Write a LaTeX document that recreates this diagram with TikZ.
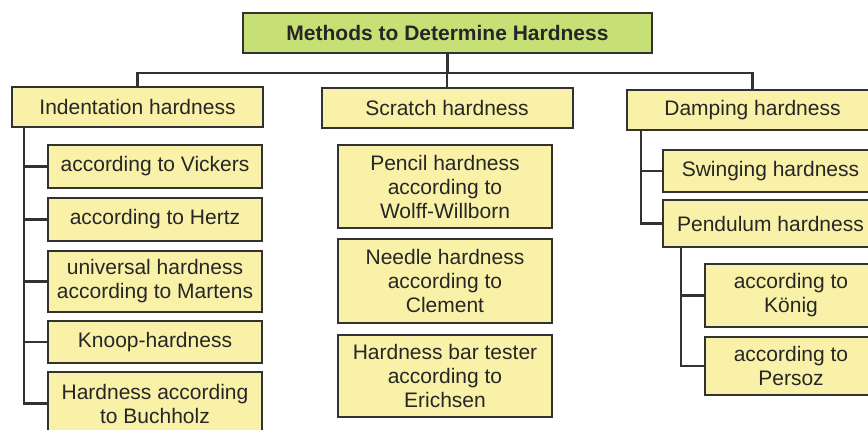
\documentclass[tikz,border=0pt]{standalone}
\usepackage{fontspec}
\setmainfont{Liberation Sans}
\usepackage{xcolor}
\definecolor{boxyellow}{RGB}{250,241,168}
\definecolor{boxgreen}{RGB}{199,224,118}
\definecolor{linegray}{RGB}{50,50,50}

\begin{document}
\begin{tikzpicture}[x=1pt,y=-1pt]
    \tikzset{every node/.style={font=\fontsize{21}{24}\selectfont,align=center,inner sep=0pt}}
    \tikzset{box/.style = {draw=linegray,line width=2pt,fill=boxyellow,text=black!85}}
    \tikzset{titlebox/.style = {box,fill=boxgreen,font=\fontsize{21}{24}\selectfont\bfseries}}
    \tikzset{edge/.style = {-,draw=linegray,line width=2.4pt}}
    \clip (0,0) rectangle (868,430);
    \useasboundingbox (0,0) rectangle (868,430);
    % vertices
    \node[titlebox,minimum width=409,minimum height=40] (top) at (447.5,33) {Methods to Determine Hardness};
    \node[box,minimum width=251,minimum height=40] (indent) at (137.5,107) {Indentation hardness};
    \node[box,minimum width=251,minimum height=40] (scratch) at (447,108) {Scratch hardness};
    \node[box,minimum width=251,minimum height=40] (damping) at (752.5,110) {Damping hardness};

    \node[box,minimum width=214,minimum height=43] (vickers) at (155,166.5) {according to Vickers};
    \node[box,minimum width=214,minimum height=43] (hertz) at (155,219.5) {according to Hertz};
    \node[box,minimum width=214,minimum height=61] (martens) at (155,281.5) {universal hardness\\according to Martens};
    \node[box,minimum width=214,minimum height=42] (knoop) at (155,342) {Knoop-hardness};
    \node[box,minimum width=214,minimum height=63] (buchholz) at (155,403.5) {Hardness according\\to Buchholz};

    \node[box,minimum width=214,minimum height=83] (pencil) at (445,186.5) {Pencil hardness\\according to\\Wolff-Willborn};
    \node[box,minimum width=214,minimum height=84] (needle) at (445,281) {Needle hardness\\according to\\Clement};
    \node[box,minimum width=214,minimum height=82] (bar) at (445,376) {Hardness bar tester\\according to\\Erichsen};

    \node[box,minimum width=215,minimum height=42] (swinging) at (770.5,171) {Swinging hardness};
    \node[box,minimum width=215,minimum height=47] (pendulum) at (770.5,223.5) {Pendulum hardness};
    \node[box,minimum width=172,minimum height=63] (koenig) at (791,295.5) {according to\\König};
    \node[box,minimum width=172,minimum height=58] (persoz) at (791,366) {according to\\Persoz};

    %edges
    \draw[edge] (top.south) -- ++(0,19) coordinate (hub);
    \draw[edge] (hub) -| (indent.north);
    \draw[edge] (hub) -| (scratch.north);
    \draw[edge] (hub) -| (damping.north);
    \foreach \child in {vickers,hertz,martens,knoop,buchholz}
        \draw[edge] ([xshift=13]indent.south west) |- (\child.west);
    \foreach \child in {swinging,pendulum}
        \draw[edge] ([xshift=15]damping.south west) |- (\child.west);
    \foreach \child in {koenig,persoz}
        \draw[edge] ([xshift=19]pendulum.south west) |- (\child.west);
\end{tikzpicture}
\end{document}
